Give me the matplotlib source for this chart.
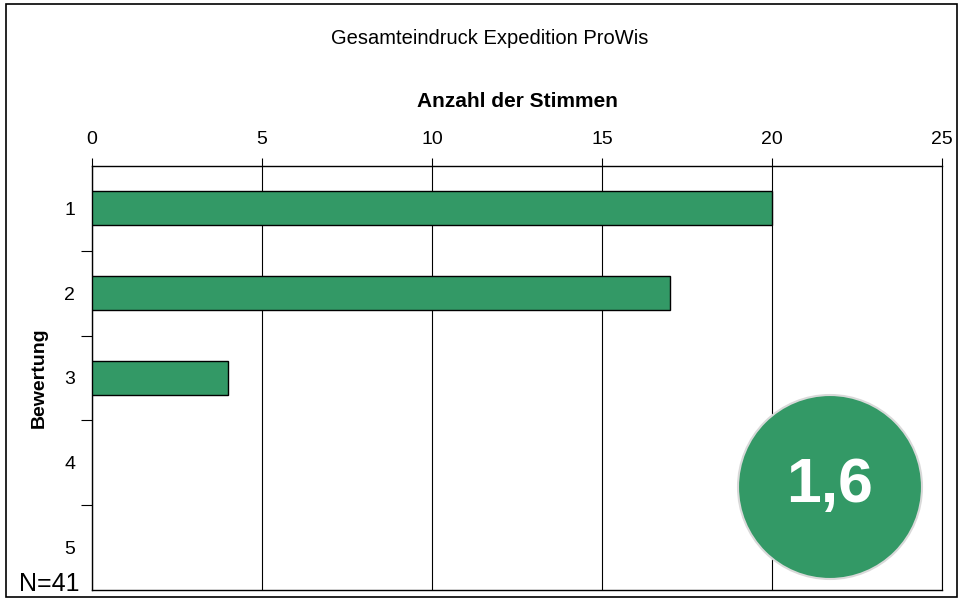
import matplotlib
matplotlib.use("Agg")
import matplotlib.pyplot as plt
from matplotlib.patches import Ellipse, Rectangle

plt.rcParams['font.family'] = ['Liberation Sans', 'DejaVu Sans']

# data
ratings = [1, 2, 3, 4, 5]
votes = [20, 17, 4, 0, 0]
x_ticks = [0, 5, 10, 15, 20, 25]
mean_score = "1,6"
n_label = "N=41"
title = "Gesamteindruck Expedition ProWis"
green = "#339966"

W, H = 959, 603
fig = plt.figure(figsize=(W / 100, H / 100), dpi=100)

# outer frame
fig.patches.append(Rectangle((6 / W, 1 - 597 / H), 951 / W, 593 / H,
                             transform=fig.transFigure, fill=False,
                             edgecolor="black", linewidth=1.2))

ax = fig.add_axes([92 / W, 1 - 590 / H, 850 / W, 424 / H])
# only non-empty bars get drawn (zero-width bars would leave an edge line)
shown = [(r, v) for r, v in zip(ratings, votes) if v > 0]
ax.barh([r for r, _ in shown], [v for _, v in shown], height=0.4,
        color=green, edgecolor="black", linewidth=1.0, zorder=3)

ax.set_xlim(0, 25)
ax.set_ylim(5.5, 0.5)
ax.xaxis.tick_top()
ax.xaxis.set_label_position("top")
ax.set_xticks(x_ticks)
ax.set_xticklabels([str(t) for t in x_ticks], fontsize=14)
ax.tick_params(axis="x", direction="out", length=6, width=0.8, pad=7)
ax.set_xlabel("Anzahl der Stimmen", fontsize=15, fontweight="bold", labelpad=17)

ax.set_yticks(ratings)
ax.set_yticklabels([str(r) for r in ratings], fontsize=14)
ax.set_yticks([r + 0.5 for r in ratings[:-1]], minor=True)
ax.tick_params(axis="y", which="major", length=0, pad=12)
ax.tick_params(axis="y", which="minor", direction="out", length=8, width=0.8)
ax.set_ylabel("Bewertung", fontsize=14, fontweight="bold", labelpad=12)

ax.grid(axis="x", color="black", linewidth=0.8, zorder=1)
for s in ["top", "left", "bottom"]:
    ax.spines[s].set_linewidth(1.0)
ax.spines["right"].set_linewidth(0.8)

fig.text(490 / W, 1 - 39 / H, title, ha="center", va="center", fontsize=14.5)
fig.text(49 / W, 1 - 584 / H, n_label, ha="center", va="center", fontsize=18)

# score circle
cx, cy, r = 830, 487, 92
fig.patches.append(Ellipse((cx / W, 1 - cy / H), 2 * r / W, 2 * r / H,
                           transform=fig.transFigure, facecolor=green,
                           edgecolor="#d9d9d9", linewidth=1.5, zorder=5))
fig.text(cx / W, 1 - (cy - 2) / H, mean_score, ha="center", va="center",
         fontsize=45, fontweight="bold", color="white", zorder=6)

fig.savefig("out.png", dpi=100)
